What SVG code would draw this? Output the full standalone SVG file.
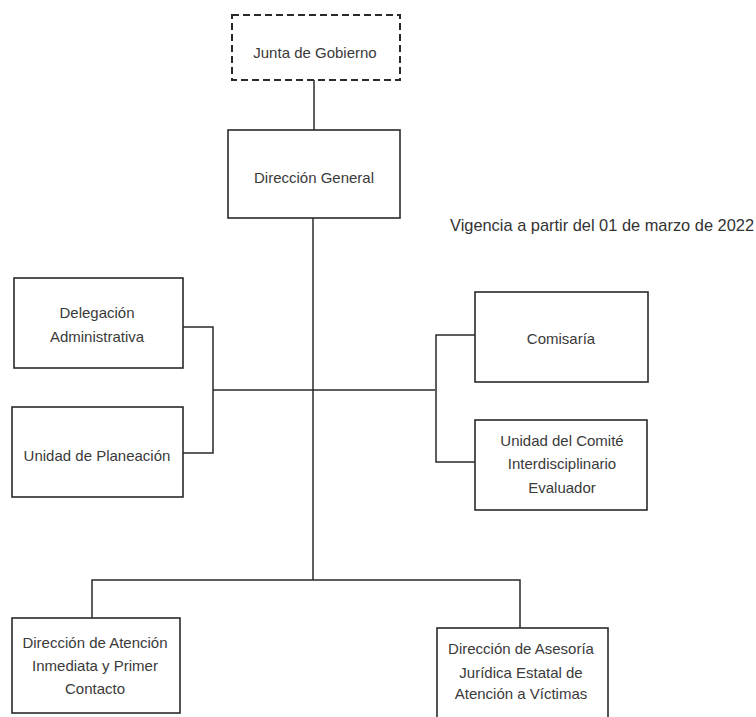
<svg xmlns="http://www.w3.org/2000/svg" width="756" height="717" viewBox="0 0 756 717">
<style>
.box{fill:#fff;stroke:#2a2a2a;stroke-width:1.6}
.dash{fill:#fff;stroke:#2a2a2a;stroke-width:2;stroke-dasharray:7,4}
.conn{fill:none;stroke:#2a2a2a;stroke-width:1.5}
text{font-family:"Liberation Sans",Arial,sans-serif;font-size:15px;fill:#3a3a3a;text-anchor:middle}
.note{font-size:16.4px;text-anchor:start;fill:#333}
</style>
<rect width="756" height="717" fill="#fff"/>
<g id="connectors">
<path class="conn" d="M314 80 V130"/>
<path class="conn" d="M313 218 V580"/>
<path class="conn" d="M213 390 H435"/>
<path class="conn" d="M183 327 H213 V453 H183"/>
<path class="conn" d="M475 335 H436 V462 H475"/>
<path class="conn" d="M92 618 V580 H520 V628"/>
</g>
<g id="junta"><rect class="dash" x="232" y="15" width="168" height="65"/><text x="315" y="58">Junta de Gobierno</text></g>
<g id="direccion-general"><rect class="box" x="228" y="130" width="172" height="88"/><text x="314" y="183">Dirección General</text></g>
<g id="delegacion"><rect class="box" x="14" y="278" width="169" height="90"/><text x="97" y="318">Delegación</text><text x="97" y="342">Administrativa</text></g>
<g id="planeacion"><rect class="box" x="12" y="407" width="171" height="90"/><text x="97" y="461">Unidad de Planeación</text></g>
<g id="comisaria"><rect class="box" x="475" y="292" width="173" height="90"/><text x="561" y="344">Comisaría</text></g>
<g id="comite"><rect class="box" x="475" y="420" width="172" height="90"/><text x="562" y="446">Unidad del Comité</text><text x="562" y="469">Interdisciplinario</text><text x="562" y="493">Evaluador</text></g>
<g id="atencion"><rect class="box" x="12" y="618" width="168" height="95"/><text x="95" y="648">Dirección de Atención</text><text x="95" y="671">Inmediata y Primer</text><text x="95" y="694">Contacto</text></g>
<g id="asesoria"><rect class="box" x="437" y="628" width="171" height="92"/><text x="521" y="654">Dirección de Asesoría</text><text x="521" y="678">Jurídica Estatal de</text><text x="521" y="699">Atención a Víctimas</text></g>
<text class="note" x="450" y="231">Vigencia a partir del 01 de marzo de 2022</text>
</svg>
